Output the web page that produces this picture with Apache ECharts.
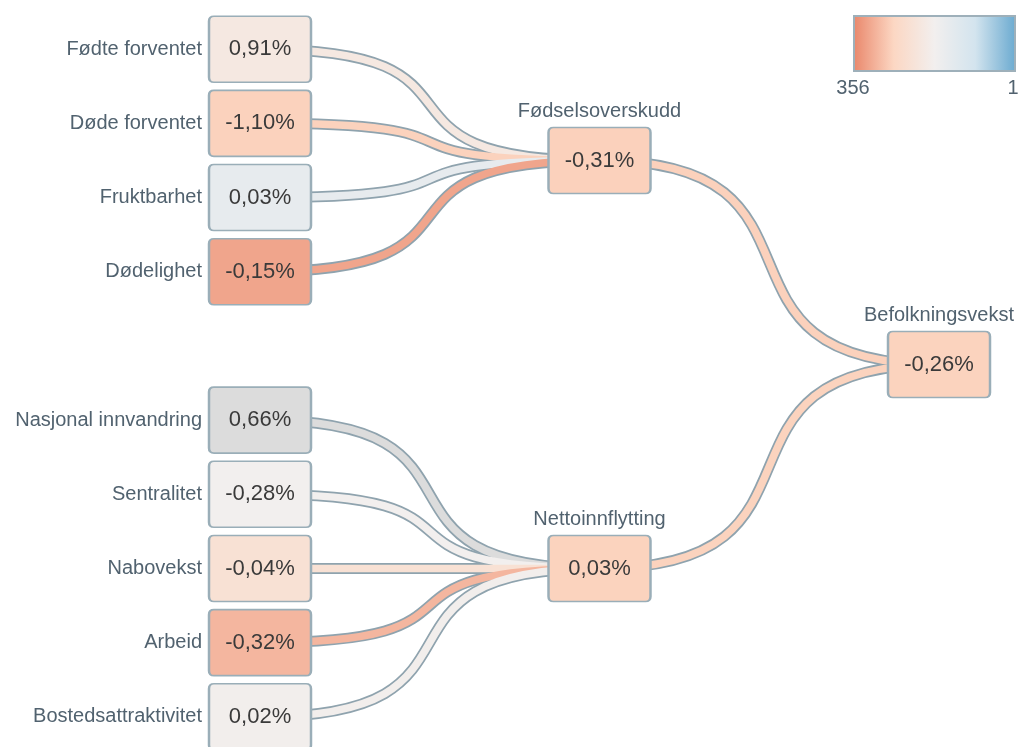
<!DOCTYPE html>
<html>
<head>
<meta charset="utf-8">
<script src="https://cdn.jsdelivr.net/npm/echarts@6/dist/echarts.min.js"></script>
<style>
  html, body { margin: 0; padding: 0; background: #fff; }
  #chart { width: 1018px; height: 747px; }
</style>
</head>
<body>
<div id="chart"></div>
<script>
  // rank 1..356 drives the colour, null = no data (grey)
  var rootName = 'Befolkningsvekst';
  var rootPct = '-0,26%';
  var rootRank = 272;

  var groupNames = ['Fødselsoverskudd', 'Nettoinnflytting'];
  var groupPct = ['-0,31%', '0,03%'];
  var groupRank = [274, 272];

  var birthNames = ['Fødte forventet', 'Døde forventet', 'Fruktbarhet', 'Dødelighet'];
  var birthPct = ['0,91%', '-1,10%', '0,03%', '-0,15%'];
  var birthRank = [206, 273, 147, 322];

  var moveNames = ['Nasjonal innvandring', 'Sentralitet', 'Nabovekst', 'Arbeid', 'Bostedsattraktivitet'];
  var movePct = ['0,66%', '-0,28%', '-0,04%', '-0,32%', '0,02%'];
  var moveRank = [null, 178, 232, 303, 182];

  var scaleLabels = ['356', '1'];
  var rankMax = 356, rankMin = 1;
  var palette = ['#e9866a', '#fcd7c3', '#f2efee', '#d3e4ee', '#6aaad0'];
  var noDataColor = '#dcdcdc';

  var outline = '#8fa3ae';
  var nameColor = '#51626f';
  var font = '"Liberation Sans", Arial, sans-serif';
  var boxPath = 'path://M5,0 H97 Q102,0 102,5 V61 Q102,66 97,66 H5 Q0,66 0,61 V5 Q0,0 5,0 Z';

  function rankColor(r) {
    if (r === null) return noDataColor;
    var t = (rankMax - r) / (rankMax - rankMin);
    return echarts.color.lerp(t, palette);
  }

  function makeNode(name, pct, rank, isLeaf) {
    return {
      name: name,
      value: pct,
      col: rankColor(rank),
      leaf: isLeaf
    };
  }

  function buildTree() {
    var root = makeNode(rootName, rootPct, rootRank, false);
    var g1 = makeNode(groupNames[0], groupPct[0], groupRank[0], false);
    var g2 = makeNode(groupNames[1], groupPct[1], groupRank[1], false);
    g1.children = birthNames.map(function(n, i) { return makeNode(n, birthPct[i], birthRank[i], true); });
    g2.children = moveNames.map(function(n, i) { return makeNode(n, movePct[i], moveRank[i], true); });
    root.children = [g1, g2];
    return root;
  }

  // layer: 'outline' | 'fill' | 'box'
  function styleTree(node, layer) {
    var out = { name: node.name, value: node.value };
    if (layer === 'outline') {
      out.lineStyle = { color: outline, width: 11, curveness: 0.75 };
    } else if (layer === 'fill') {
      out.lineStyle = { color: node.col, width: 7.5, curveness: 0.75 };
      out.label = node.leaf ?
        { position: 'left', distance: 7 } :
        { position: 'top', distance: 6 };
    } else {
      out.itemStyle = { color: node.col };
    }
    if (node.children) {
      out.children = node.children.map(function(c) { return styleTree(c, layer); });
    }
    return out;
  }

  var tree = buildTree();

  var base = {
    type: 'tree',
    orient: 'RL',
    left: 260,
    top: -25,
    width: 679,
    height: 816,
    edgeShape: 'curve',
    expandAndCollapse: false,
    initialTreeDepth: -1,
    roam: false,
    symbol: boxPath,
    symbolSize: [102, 66],
    emphasis: { disabled: true },
    animation: false,
    silent: true
  };

  var seriesOutline = Object.assign({}, base, {
    z: 1,
    data: [styleTree(tree, 'outline')],
    itemStyle: { color: 'rgba(0,0,0,0)', borderWidth: 0 },
    label: { show: false },
    lineStyle: { curveness: 0.75 }
  });

  var seriesFill = Object.assign({}, base, {
    z: 2,
    data: [styleTree(tree, 'fill')],
    itemStyle: { color: 'rgba(0,0,0,0)', borderWidth: 0 },
    label: {
      show: true,
      formatter: '{b}',
      color: nameColor,
      fontSize: 20,
      fontFamily: font
    },
    lineStyle: { curveness: 0.75 }
  });

  var seriesBox = Object.assign({}, base, {
    z: 3,
    data: [styleTree(tree, 'box')],
    itemStyle: { borderColor: '#9aaeb8', borderWidth: 2 },
    label: {
      show: true,
      position: 'inside',
      formatter: '{c}',
      color: '#3a3a3a',
      fontSize: 22,
      fontFamily: font
    },
    lineStyle: { width: 0, opacity: 0 }
  });

  var myChart = echarts.init(document.getElementById('chart'));
  var option = {
    backgroundColor: '#ffffff',
    series: [seriesOutline, seriesFill, seriesBox],
    graphic: [{
      type: 'rect',
      left: 853,
      top: 15,
      shape: { width: 161, height: 55 },
      style: {
        fill: new echarts.graphic.LinearGradient(0, 0, 1, 0, palette.map(function(c, i) {
          return { offset: i / (palette.length - 1), color: c };
        })),
        stroke: '#9eb0ba',
        lineWidth: 2
      }
    }, {
      type: 'text',
      x: 853,
      y: 78,
      style: {
        text: scaleLabels[0],
        align: 'center',
        fill: nameColor,
        fontSize: 20,
        fontFamily: font
      }
    }, {
      type: 'text',
      x: 1013,
      y: 78,
      style: {
        text: scaleLabels[1],
        align: 'center',
        fill: nameColor,
        fontSize: 20,
        fontFamily: font
      }
    }]
  };
  myChart.setOption(option);
</script>
</body>
</html>
